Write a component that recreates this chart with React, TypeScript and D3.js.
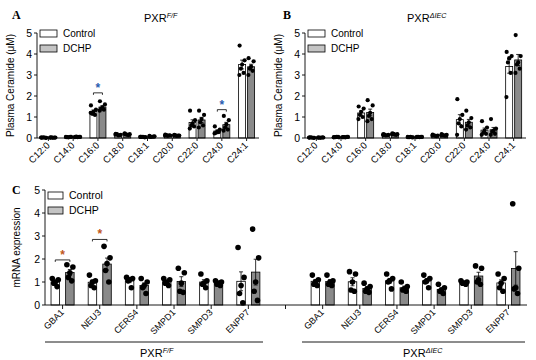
import React from "react";
import * as d3 from "d3";

const plasmaCats = ["C12:0", "C14:0", "C16:0", "C18:0", "C18:1", "C20:0", "C22:0", "C24:0", "C24:1"];
const yTicks = [0, 1, 2, 3, 4, 5];

// Panel A (PXR F/F) individual points
const aControl = [
  [0.02, 0.01, 0.03, 0.02, 0.01, 0.02],
  [0.04, 0.05, 0.03, 0.04, 0.06, 0.05],
  [1.55, 1.35, 1.25, 1.15, 1.1, 1.2],
  [0.2, 0.15, 0.12, 0.18, 0.13, 0.16],
  [0.05, 0.04, 0.06, 0.05, 0.03, 0.05],
  [0.16, 0.12, 0.1, 0.14, 0.13, 0.11],
  [1.3, 0.85, 0.7, 0.6, 0.55, 0.45],
  [0.55, 0.4, 0.3, 0.25, 0.28, 0.22],
  [4.4, 3.7, 3.5, 3.3, 3.1, 3.0],
];
const aDchp = [
  [0.02, 0.02, 0.01, 0.03, 0.02, 0.02],
  [0.06, 0.05, 0.04, 0.07, 0.05, 0.04],
  [1.75, 1.6, 1.45, 1.4, 1.35, 1.3],
  [0.22, 0.18, 0.15, 0.17, 0.14, 0.2],
  [0.1, 0.08, 0.06, 0.05, 0.07, 0.06],
  [0.15, 0.12, 0.1, 0.13, 0.11, 0.12],
  [1.3, 1.1, 0.9, 0.75, 0.6, 0.5],
  [1.05, 0.85, 0.65, 0.5, 0.4, 0.35],
  [3.8, 3.65, 3.4, 3.3, 3.2, 3.0],
];
// Panel B (PXR ΔIEC)
const bControl = [
  [0.02, 0.01, 0.02, 0.03, 0.01, 0.02],
  [0.04, 0.03, 0.05, 0.04, 0.05, 0.03],
  [1.5, 1.4, 1.25, 1.1, 1.0, 0.9],
  [0.18, 0.15, 0.12, 0.16, 0.13, 0.14],
  [0.04, 0.03, 0.05, 0.04, 0.03, 0.05],
  [0.16, 0.12, 0.1, 0.13, 0.09, 0.11],
  [1.85, 1.1, 0.9, 0.7, 0.55, 0.15],
  [0.8, 0.5, 0.35, 0.25, 0.2, 0.15],
  [4.1, 3.9, 3.8, 3.6, 3.1, 1.95],
];
const bDchp = [
  [0.02, 0.02, 0.01, 0.02, 0.03, 0.02],
  [0.04, 0.05, 0.03, 0.04, 0.05, 0.04],
  [1.8, 1.55, 1.2, 1.05, 0.9, 0.8],
  [0.22, 0.18, 0.16, 0.2, 0.15, 0.17],
  [0.06, 0.05, 0.04, 0.06, 0.05, 0.04],
  [0.18, 0.15, 0.12, 0.14, 0.11, 0.13],
  [1.3, 0.95, 0.75, 0.6, 0.5, 0.4],
  [0.9, 0.45, 0.35, 0.3, 0.2, 0.15],
  [4.9, 3.9, 3.6, 3.5, 3.3, 3.1],
];

// Panel C mRNA
const genes = ["GBA1", "NEU3", "CERS4", "SMPD1", "SMPD3", "ENPP7"];
const groups = ["F/F", "ΔIEC"];
const cLeftControl = [
  [1.15, 1.1, 1.0, 0.95, 0.8],
  [1.3, 1.05, 1.0, 0.85, 0.75],
  [1.2, 1.15, 1.1, 1.05, 0.75],
  [1.15, 1.1, 1.0, 0.95, 0.85],
  [1.35, 1.05, 0.95, 0.9, 0.75],
  [2.5, 1.2, 0.85, 0.5, 0.1],
];
const cLeftDchp = [
  [1.75, 1.65, 1.4, 1.2, 1.05],
  [2.55, 2.05, 1.8, 1.5, 1.0],
  [1.15, 1.0, 0.85, 0.75, 0.5],
  [1.6, 1.4, 0.95, 0.6, 0.55],
  [1.05, 1.0, 0.95, 0.9, 0.85],
  [3.3, 2.05, 1.0, 0.6, 0.2],
];
const cRightControl = [
  [1.3, 1.1, 1.0, 0.9, 0.85],
  [1.45, 1.35, 1.0, 0.65, 0.6],
  [1.35, 1.15, 1.05, 1.0, 0.7],
  [1.3, 1.15, 1.05, 1.0, 0.75],
  [1.05, 1.0, 0.95, 0.95, 0.9],
  [1.35, 1.15, 0.95, 0.75, 0.6],
];
const cRightDchp = [
  [1.3, 1.05, 1.0, 0.9, 0.85],
  [0.95, 0.8, 0.7, 0.6, 0.55],
  [1.0, 0.8, 0.7, 0.65, 0.6],
  [0.9, 0.75, 0.65, 0.6, 0.5],
  [1.7, 1.6, 1.1, 1.0, 0.9],
  [4.4, 1.6, 0.75, 0.7, 0.5],
];

const FONT = "'Liberation Sans', Arial, sans-serif";
const SERIF = "'Liberation Serif', 'Times New Roman', serif";
const BAR_GRAY = "#8a8a8a";
const LEG_GRAY = "#c4c4c4";

const sem = (v: number[]) => (d3.deviation(v) || 0) / Math.sqrt(v.length);

const jitter = [-1, 1, 0, -0.5, 0.6, -1.1, 1.1];

function Bar({ cx, w, vals, fill, y, r, spread }: any) {
  const m = d3.mean(vals) as number;
  const s = sem(vals);
  const y0 = y(0);
  return (
    <g>
      <rect x={cx - w / 2} y={y(m)} width={w} height={y0 - y(m)} fill={fill} stroke="#000" strokeWidth={0.8} />
      <line x1={cx} x2={cx} y1={y(m - s)} y2={y(m + s)} stroke="#000" strokeWidth={0.8} />
      <line x1={cx - 2} x2={cx + 2} y1={y(m + s)} y2={y(m + s)} stroke="#000" strokeWidth={0.8} />
      <line x1={cx - 2} x2={cx + 2} y1={y(m - s)} y2={y(m - s)} stroke="#000" strokeWidth={0.8} />
      {vals.map((v: number, i: number) => (
        <circle key={i} cx={cx + jitter[i % jitter.length] * spread} cy={y(v)} r={r} fill="#000" />
      ))}
    </g>
  );
}

function Title({ x, y, sup, size = 11 }: any) {
  return (
    <text x={x} y={y} fontFamily={FONT} fontSize={size} fill="#000">
      PXR
      <tspan dy={-4} fontSize={size * 0.65} fontStyle="italic">{sup}</tspan>
    </text>
  );
}

function Legend({ x, y, w, h, gap, fs }: any) {
  return (
    <g fontFamily={FONT} fontSize={fs}>
      <rect x={x} y={y} width={w} height={h} fill="#fff" stroke="#000" strokeWidth={0.8} />
      <text x={x + w + 6} y={y + h}>Control</text>
      <rect x={x} y={y + gap} width={w} height={h} fill={LEG_GRAY} stroke="#000" strokeWidth={0.8} />
      <text x={x + w + 6} y={y + gap + h}>DCHP</text>
    </g>
  );
}

function YAxis({ x, y, label, labelX, fs }: any) {
  const [b, t] = y.range();
  return (
    <g fontFamily={FONT}>
      <line x1={x} x2={x} y1={b} y2={t} stroke="#000" strokeWidth={0.9} />
      {yTicks.map((v) => (
        <g key={v}>
          <line x1={x - 3} x2={x} y1={y(v)} y2={y(v)} stroke="#000" strokeWidth={0.9} />
          <text x={x - 5} y={y(v) + 3.5} fontSize={10.5} textAnchor="end">{v}</text>
        </g>
      ))}
      <text transform={`translate(${labelX},${(b + t) / 2}) rotate(-90)`} fontSize={fs} textAnchor="middle">{label}</text>
    </g>
  );
}

function Sig({ x1, x2, yb, color }: any) {
  return (
    <g>
      <path d={`M${x1},${yb + 2}V${yb}H${x2}V${yb + 2}`} fill="none" stroke="#000" strokeWidth={0.8} />
      <text x={(x1 + x2) / 2} y={yb - 1} fontSize={12} fontWeight="bold" fill={color} textAnchor="middle" fontFamily={FONT}>*</text>
    </g>
  );
}

function PlasmaPanel({ ax, xr, ctrl, dchp, letter, letterX, titleX, sup, sigs }: any) {
  const y = d3.scaleLinear().domain([0, 5]).range([138, 33]);
  const x = d3.scaleBand<string>().domain(plasmaCats).range(xr);
  const c = (k: string) => (x(k) as number) + x.bandwidth() / 2;
  return (
    <g>
      <text x={letterX} y={19} fontFamily={SERIF} fontWeight="bold" fontSize={12}>{letter}</text>
      <Title x={titleX} y={22} sup={sup} />
      {plasmaCats.map((k, i) => (
        <g key={k}>
          <Bar cx={c(k) - 4.5} w={7} vals={ctrl[i]} fill="#fff" y={y} r={2.1} spread={2.5} />
          <Bar cx={c(k) + 4.5} w={7} vals={dchp[i]} fill={BAR_GRAY} y={y} r={2.1} spread={2.5} />
          <line x1={c(k)} x2={c(k)} y1={138} y2={141} stroke="#000" strokeWidth={0.9} />
          <text transform={`translate(${c(k) + 2},${146}) rotate(-45)`} fontFamily={FONT} fontSize={9.5} textAnchor="end">{k}</text>
        </g>
      ))}
      <line x1={ax} x2={xr[1]} y1={138} y2={138} stroke="#000" strokeWidth={0.9} />
      <YAxis x={ax} y={y} label="Plasma Ceramide (μM)" labelX={ax - 23} fs={10} />
      <Legend x={ax + 3} y={30} w={17} h={7} gap={15} fs={10} />
      {sigs.map((s: any, i: number) => (
        <Sig key={i} x1={c(s.cat) - 4.5} x2={c(s.cat) + 4.5} yb={y(s.at)} color={s.color} />
      ))}
    </g>
  );
}

export default function App() {
  const yC = d3.scaleLinear().domain([0, 5]).range([305, 190]);
  const cKeys = [
    ...genes.map((g) => `${groups[0]}|${g}`),
    "gap",
    ...genes.map((g) => `${groups[1]}|${g}`),
  ];
  const xC = d3.scaleBand<string>().domain(cKeys).range([44, 527]);
  const cc = (k: string) => (xC(k) as number) + xC.bandwidth() / 2;
  const cData: Record<string, [number[], number[]]> = {};
  genes.forEach((g, i) => {
    cData[`${groups[0]}|${g}`] = [cLeftControl[i], cLeftDchp[i]];
    cData[`${groups[1]}|${g}`] = [cRightControl[i], cRightDchp[i]];
  });
  const starC = "#c0561a";
  const blue = "#2a5db0";
  return (
    <div style={{ position: "absolute", left: 0, top: 0 }}>
      <svg width={536} height={360} style={{ display: "block", background: "#fff" }}>
        <PlasmaPanel ax={37} xr={[36, 259]} ctrl={aControl} dchp={aDchp} letter="A" letterX={12} titleX={144} sup="F/F"
          sigs={[{ cat: "C16:0", at: 2.15, color: blue }, { cat: "C24:0", at: 1.35, color: blue }]} />
        <PlasmaPanel ax={305} xr={[304, 526]} ctrl={bControl} dchp={bDchp} letter="B" letterX={283} titleX={407} sup="ΔIEC" sigs={[]} />

        {/* Panel C */}
        <text x={12} y={194} fontFamily={SERIF} fontWeight="bold" fontSize={12}>C</text>
        {cKeys.filter((k) => k !== "gap").map((k) => (
          <g key={k}>
            <Bar cx={cc(k) - 7.3} w={8.5} vals={cData[k][0]} fill="#fff" y={yC} r={2.8} spread={3} />
            <Bar cx={cc(k) + 7.3} w={8.5} vals={cData[k][1]} fill={BAR_GRAY} y={yC} r={2.8} spread={3} />
            <text transform={`translate(${cc(k) + 2},${313}) rotate(-45)`} fontFamily={FONT} fontSize={9} textAnchor="end">{k.split("|")[1]}</text>
          </g>
        ))}
        {cKeys.map((k) => (
          <line key={k} x1={cc(k)} x2={cc(k)} y1={305} y2={309} stroke="#000" strokeWidth={0.9} />
        ))}
        <line x1={45} x2={527} y1={305} y2={305} stroke="#000" strokeWidth={0.9} />
        <YAxis x={45} y={yC} label="mRNA expression" labelX={20} fs={10} />
        <Legend x={48} y={192} w={15} h={7} gap={15} fs={10.5} />
        <Sig x1={cc("F/F|GBA1") - 7.3} x2={cc("F/F|GBA1") + 7.3} yb={yC(1.96)} color={starC} />
        <Sig x1={cc("F/F|NEU3") - 7.3} x2={cc("F/F|NEU3") + 7.3} yb={yC(2.85)} color={starC} />

        <line x1={45} x2={263} y1={342} y2={342} stroke="#000" strokeWidth={0.9} />
        <Title x={140} y={357} sup="F/F" size={11} />
        <line x1={302} x2={525} y1={342} y2={342} stroke="#000" strokeWidth={0.9} />
        <Title x={403} y={357} sup="ΔIEC" size={11} />
      </svg>
    </div>
  );
}
